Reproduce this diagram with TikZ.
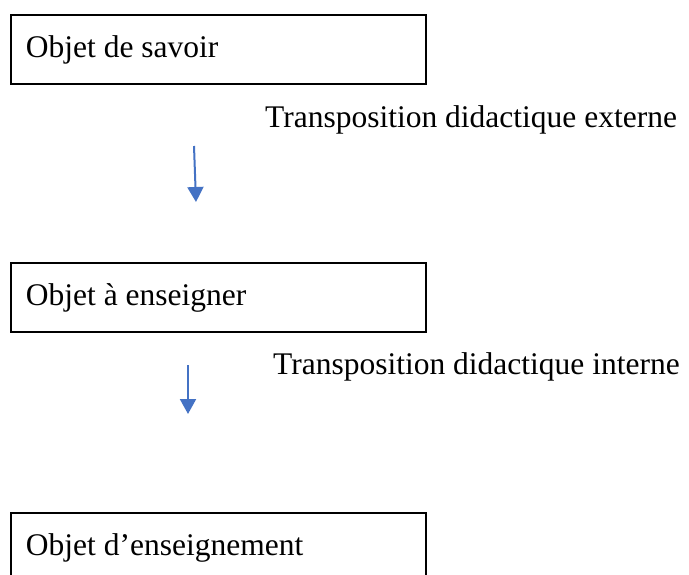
\documentclass[tikz,border=0pt]{standalone}
\usepackage{fontspec}
\setmainfont{Liberation Serif}
\usetikzlibrary{arrows.meta}
\definecolor{arrowblue}{HTML}{4472C4}
\newcommand{\boxline}[1]{\makebox[385pt][l]{#1}}
\begin{document}
\begin{tikzpicture}[x=1pt,y=-1pt,
  stepbox/.style={draw, line width=2pt, anchor=north west, minimum height=69pt,
    inner xsep=15pt, inner ysep=0pt,
    text height=16pt, text depth=0pt, font=\fontsize{31.5}{36}\selectfont},
  lbl/.style={anchor=base west, inner sep=0pt, font=\fontsize{31.5}{36}\selectfont},
  arr/.style={draw=arrowblue, line width=2pt, -{Triangle[length=15pt,width=16pt]}, arrowblue}]
\clip (0,0) rectangle (689,574);
\fill[white] (0,0) rectangle (689,574);
\node[stepbox] (b1) at (10,14) {\boxline{Objet de savoir}};
\node[stepbox] (b2) at (10,262) {\boxline{Objet à enseigner}};
\node[stepbox] (b3) at (10,512) {\boxline{Objet d’enseignement}};
\node[lbl] (l1) at (265,127) {Transposition didactique externe};
\node[lbl] (l2) at (273,374) {Transposition didactique interne};
\coordinate (a1s) at (194,146);
\coordinate (a1e) at (196,202);
\coordinate (a2s) at (188,365);
\coordinate (a2e) at (188,414);
\draw[arr] (a1s) -- (a1e);
\draw[arr] (a2s) -- (a2e);
\end{tikzpicture}
\end{document}
